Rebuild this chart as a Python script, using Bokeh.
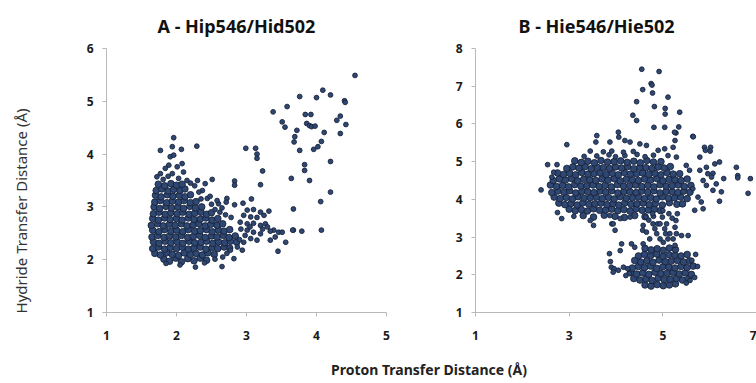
from bokeh.plotting import figure
from bokeh.layouts import row, column
from bokeh.models import Range1d, FixedTicker, Div
from bokeh.embed import file_html
from bokeh.resources import INLINE

# ---------------- data ----------------
title_a = "A  - Hip546/Hid502"
title_b = "B - Hie546/Hie502"
y_label = "Hydride Transfer Distance (Å)"
x_label = "Proton Transfer Distance (Å)"
a_xticks = [1, 2, 3, 4, 5]
a_yticks = [1, 2, 3, 4, 5, 6]
b_xticks = [1, 3, 5, 7]
b_yticks = [1, 2, 3, 4, 5, 6, 7, 8]

# Panel A: dense core (proton, hydride)
A_core = [
    (1.82, 2.01), (1.90, 1.97), (1.99, 2.03), (2.07, 1.96), (2.16, 2.02), (2.25, 1.98), (2.34, 2.03), (2.43, 1.99),
    (1.69, 2.12), (1.77, 2.09), (1.86, 2.13), (1.94, 2.10), (2.03, 2.08), (2.11, 2.13), (2.20, 2.10), (2.28, 2.12),
    (2.37, 2.09), (2.45, 2.13), (2.54, 2.10),
    (1.66, 2.21), (1.74, 2.24), (1.83, 2.20), (1.91, 2.23), (2.00, 2.21), (2.08, 2.24), (2.17, 2.20), (2.25, 2.22),
    (2.34, 2.24), (2.42, 2.20), (2.51, 2.23), (2.59, 2.21), (2.68, 2.24), (2.76, 2.22),
    (1.67, 2.34), (1.75, 2.31), (1.84, 2.35), (1.92, 2.32), (2.01, 2.34), (2.09, 2.31), (2.18, 2.35), (2.26, 2.32),
    (2.35, 2.33), (2.43, 2.35), (2.52, 2.31), (2.60, 2.34), (2.69, 2.32), (2.77, 2.35), (2.86, 2.33),
    (1.65, 2.43), (1.73, 2.46), (1.82, 2.42), (1.90, 2.45), (1.99, 2.43), (2.07, 2.46), (2.16, 2.42), (2.24, 2.44),
    (2.33, 2.46), (2.41, 2.42), (2.50, 2.45), (2.58, 2.43), (2.67, 2.46), (2.75, 2.42), (2.84, 2.45),
    (1.66, 2.56), (1.75, 2.53), (1.83, 2.57), (1.92, 2.54), (2.00, 2.56), (2.09, 2.53), (2.17, 2.57), (2.26, 2.54),
    (2.34, 2.55), (2.43, 2.57), (2.51, 2.53), (2.60, 2.56), (2.68, 2.54), (2.76, 2.57),
    (1.64, 2.65), (1.73, 2.68), (1.81, 2.64), (1.90, 2.67), (1.98, 2.65), (2.07, 2.68), (2.15, 2.64), (2.24, 2.66),
    (2.32, 2.68), (2.41, 2.64), (2.49, 2.67), (2.58, 2.65), (2.66, 2.68),
    (1.66, 2.78), (1.74, 2.75), (1.83, 2.79), (1.91, 2.76), (2.00, 2.78), (2.08, 2.75), (2.17, 2.79), (2.25, 2.76),
    (2.34, 2.77), (2.42, 2.79), (2.51, 2.75), (2.59, 2.78),
    (1.67, 2.87), (1.75, 2.90), (1.84, 2.86), (1.92, 2.89), (2.01, 2.87), (2.09, 2.90), (2.18, 2.86), (2.26, 2.88),
    (2.35, 2.90), (2.43, 2.86), (2.50, 2.89),
    (1.68, 3.00), (1.76, 2.97), (1.85, 3.01), (1.93, 2.98), (2.02, 3.00), (2.10, 2.97), (2.19, 3.01), (2.27, 2.98),
    (2.36, 3.00),
    (1.69, 3.09), (1.77, 3.12), (1.86, 3.08), (1.94, 3.11), (2.03, 3.09), (2.11, 3.12), (2.20, 3.08), (2.28, 3.10),
    (1.70, 3.22), (1.78, 3.19), (1.87, 3.23), (1.95, 3.20), (2.04, 3.22), (2.12, 3.19), (2.20, 3.23),
    (1.71, 3.31), (1.79, 3.34), (1.88, 3.30), (1.96, 3.33), (2.05, 3.31), (2.12, 3.34),
    (1.74, 3.43), (1.83, 3.40), (1.92, 3.44), (2.00, 3.41), (2.08, 3.43),
]

# Panel A: scattered points
A_sparse = [
    (1.77, 4.07), (1.94, 4.14), (2.07, 4.09), (2.29, 4.15), (1.96, 4.31), (1.91, 3.95), (1.96, 3.98), (1.89, 3.79),
    (1.84, 3.73), (2.01, 3.76), (2.08, 3.82), (1.77, 3.63), (1.94, 3.63), (2.10, 3.66), (1.72, 3.57), (2.03, 3.54),
    (2.15, 3.50), (1.81, 3.52), (1.88, 3.58), (2.20, 3.45),
    (2.30, 3.50), (2.51, 3.52), (2.41, 3.44), (2.26, 3.40), (2.37, 3.31), (2.32, 3.28), (2.44, 3.16), (2.72, 3.16),
    (2.60, 3.06), (2.71, 3.09), (2.83, 3.04), (2.95, 3.07), (2.83, 3.49), (2.83, 3.41), (2.50, 3.05), (2.55, 2.95),
    (2.62, 2.90), (2.70, 2.85), (2.78, 2.80), (2.65, 2.98), (2.48, 3.20), (2.58, 3.12), (2.35, 3.15),
    (3.01, 2.94), (3.10, 2.95), (3.20, 2.90), (3.32, 2.92), (2.96, 2.84), (3.06, 2.81), (3.15, 2.80), (3.25, 2.84),
    (2.91, 2.71), (3.01, 2.68), (3.10, 2.69), (3.20, 2.65), (3.27, 2.68), (3.30, 2.62), (3.39, 2.56), (3.46, 2.52),
    (3.51, 2.52), (3.56, 2.33), (3.45, 2.16), (3.67, 2.56), (3.06, 2.40), (3.15, 2.37), (2.96, 2.33), (3.34, 2.37),
    (3.10, 2.52), (3.20, 2.49), (3.01, 2.56), (3.34, 2.54), (3.41, 2.43), (2.87, 2.24), (2.94, 2.18), (2.77, 2.18),
    (2.82, 2.02), (2.65, 1.87), (2.92, 2.58), (2.98, 2.46), (2.90, 2.38), (3.05, 2.62), (3.23, 2.58),
    (1.85, 1.93), (2.05, 1.90), (2.27, 1.86), (2.40, 1.94), (2.55, 2.01), (2.66, 2.05), (2.72, 2.12),
    (3.23, 3.68), (3.20, 3.42), (3.64, 3.54), (3.07, 3.15), (3.67, 2.96), (2.99, 4.11), (3.13, 4.11), (3.15, 4.00),
    (3.15, 3.92), (3.66, 2.56), (3.79, 2.54), (4.07, 2.56), (4.06, 3.10), (4.20, 3.28), (3.90, 3.50), (3.83, 3.80),
    (3.83, 3.69), (4.20, 3.86), (3.76, 4.07), (3.96, 4.09), (4.02, 4.14), (4.07, 4.24), (4.11, 4.41), (3.68, 4.23),
    (3.69, 4.33), (3.72, 4.45), (4.34, 4.39), (4.42, 4.56), (4.29, 4.64), (4.34, 4.72), (3.86, 4.58), (3.90, 4.54),
    (3.93, 4.52), (3.98, 4.53), (3.51, 4.61), (3.55, 4.51), (3.84, 4.75), (3.92, 4.75), (3.38, 4.80), (3.58, 4.90),
    (4.40, 5.01), (4.41, 4.98), (4.20, 5.12), (4.00, 5.07), (3.76, 5.09), (4.09, 5.21), (4.55, 5.49),
]

# Panel B: upper (Hydride ~4-5 A) population
B_upper = [
    (3.30, 3.57), (3.52, 3.53), (3.75, 3.58), (3.98, 3.55), (4.18, 3.52), (4.40, 3.57), (4.62, 3.54),
    (3.00, 3.74), (3.13, 3.70), (3.26, 3.73), (3.39, 3.69), (3.52, 3.75), (3.65, 3.71), (3.78, 3.72), (3.91, 3.74),
    (4.04, 3.70), (4.17, 3.73), (4.30, 3.69), (4.43, 3.75), (4.56, 3.71), (4.69, 3.72), (4.82, 3.74), (4.95, 3.70),
    (2.78, 3.90), (2.91, 3.86), (3.04, 3.89), (3.17, 3.85), (3.29, 3.91), (3.42, 3.87), (3.55, 3.88), (3.68, 3.90),
    (3.81, 3.86), (3.94, 3.89), (4.06, 3.85), (4.19, 3.91), (4.32, 3.87), (4.45, 3.88), (4.58, 3.90), (4.71, 3.86),
    (4.84, 3.89), (4.99, 3.85), (5.14, 3.91), (5.30, 3.87), (5.42, 3.88),
    (2.68, 4.06), (2.81, 4.02), (2.94, 4.05), (3.07, 4.01), (3.19, 4.07), (3.32, 4.03), (3.45, 4.04), (3.58, 4.06),
    (3.71, 4.02), (3.84, 4.05), (3.96, 4.01), (4.09, 4.07), (4.22, 4.03), (4.35, 4.04), (4.48, 4.06), (4.61, 4.02),
    (4.74, 4.05), (4.86, 4.01), (4.99, 4.07), (5.12, 4.03), (5.25, 4.04), (5.38, 4.06), (5.52, 4.02),
    (2.63, 4.18), (2.76, 4.22), (2.89, 4.19), (3.01, 4.23), (3.14, 4.17), (3.27, 4.21), (3.40, 4.20), (3.53, 4.18),
    (3.66, 4.22), (3.78, 4.19), (3.91, 4.23), (4.04, 4.17), (4.17, 4.21), (4.30, 4.20), (4.43, 4.18), (4.55, 4.22),
    (4.68, 4.19), (4.81, 4.23), (4.94, 4.17), (5.07, 4.21), (5.20, 4.20), (5.32, 4.18), (5.45, 4.22), (5.58, 4.19),
    (2.60, 4.38), (2.73, 4.34), (2.86, 4.37), (2.99, 4.33), (3.12, 4.39), (3.25, 4.35), (3.38, 4.36), (3.51, 4.38),
    (3.64, 4.34), (3.77, 4.37), (3.90, 4.33), (4.03, 4.39), (4.16, 4.35), (4.29, 4.36), (4.42, 4.38), (4.55, 4.34),
    (4.68, 4.37), (4.81, 4.33), (4.94, 4.39), (5.07, 4.35), (5.20, 4.36), (5.33, 4.38), (5.46, 4.34), (5.60, 4.37),
    (2.66, 4.50), (2.79, 4.54), (2.92, 4.51), (3.05, 4.55), (3.18, 4.49), (3.31, 4.53), (3.44, 4.52), (3.57, 4.50),
    (3.70, 4.54), (3.83, 4.51), (3.96, 4.55), (4.09, 4.49), (4.22, 4.53), (4.35, 4.52), (4.48, 4.50), (4.61, 4.54),
    (4.74, 4.51), (4.87, 4.55), (5.00, 4.49), (5.13, 4.53), (5.26, 4.52), (5.39, 4.50), (5.52, 4.54),
    (2.75, 4.70), (2.88, 4.66), (3.01, 4.69), (3.14, 4.65), (3.27, 4.71), (3.40, 4.67), (3.53, 4.68), (3.66, 4.70),
    (3.79, 4.66), (3.92, 4.69), (4.05, 4.65), (4.18, 4.71), (4.31, 4.67), (4.44, 4.68), (4.57, 4.70), (4.70, 4.66),
    (4.83, 4.69), (4.96, 4.65), (5.09, 4.71), (5.22, 4.67), (5.36, 4.68),
    (2.95, 4.82), (3.08, 4.86), (3.21, 4.83), (3.34, 4.87), (3.47, 4.81), (3.60, 4.85), (3.73, 4.84), (3.86, 4.82),
    (3.99, 4.86), (4.12, 4.83), (4.25, 4.87), (4.38, 4.81), (4.51, 4.85), (4.64, 4.84), (4.77, 4.82), (4.90, 4.86),
    (5.03, 4.83), (5.16, 4.87),
    (3.12, 5.02), (3.26, 4.98), (3.40, 5.01), (3.54, 4.97), (3.68, 5.03), (3.82, 4.99), (3.96, 5.00), (4.10, 5.02),
    (4.24, 4.98), (4.38, 5.01), (4.52, 4.97), (4.66, 5.03), (4.80, 4.99), (4.96, 5.00),
]

# Panel B: lower (Hydride ~2 A) population
B_lower = [
    (4.62, 1.73), (4.75, 1.70), (4.88, 1.74), (5.01, 1.71), (5.14, 1.73), (5.27, 1.76),
    (4.38, 1.90), (4.51, 1.86), (4.64, 1.89), (4.77, 1.85), (4.90, 1.91), (5.03, 1.87), (5.16, 1.88), (5.29, 1.90),
    (5.42, 1.86), (5.55, 1.89),
    (4.31, 2.06), (4.44, 2.02), (4.57, 2.05), (4.70, 2.01), (4.83, 2.07), (4.96, 2.03), (5.09, 2.04), (5.22, 2.06),
    (5.35, 2.02), (5.48, 2.05), (5.61, 2.01),
    (4.35, 2.18), (4.48, 2.22), (4.61, 2.19), (4.74, 2.23), (4.87, 2.17), (5.00, 2.21), (5.13, 2.20), (5.26, 2.18),
    (5.39, 2.22), (5.52, 2.19), (5.65, 2.23),
    (4.40, 2.38), (4.53, 2.34), (4.66, 2.37), (4.79, 2.33), (4.92, 2.39), (5.05, 2.35), (5.18, 2.36), (5.31, 2.38),
    (5.44, 2.34), (5.57, 2.37),
    (4.48, 2.50), (4.61, 2.54), (4.74, 2.51), (4.87, 2.55), (5.00, 2.49), (5.13, 2.53), (5.26, 2.52), (5.39, 2.50),
    (5.52, 2.54),
    (4.62, 2.70), (4.75, 2.66), (4.88, 2.69), (5.01, 2.65), (5.14, 2.71), (5.27, 2.67),
]

# Panel B: scattered points
B_sparse = [
    (3.32, 5.14), (3.59, 5.15), (3.85, 5.18), (3.99, 5.13), (4.19, 5.16), (4.45, 5.19), (4.62, 5.13), (4.80, 5.17),
    (2.95, 5.45), (2.54, 4.92), (2.74, 4.92), (2.40, 4.25), (2.67, 4.72), (2.63, 4.59), (3.59, 5.69), (3.57, 5.52),
    (4.05, 5.78), (4.06, 5.65), (3.87, 5.52), (4.19, 5.56), (4.30, 5.52), (4.51, 5.47), (4.65, 5.43), (3.45, 5.28),
    (3.73, 5.26), (3.91, 5.28), (4.16, 5.25), (4.37, 5.27), (4.90, 5.30), (5.04, 5.34), (5.22, 5.38), (5.11, 5.16),
    (5.29, 5.12), (5.28, 5.76), (5.64, 5.67), (5.26, 5.56), (5.89, 5.38), (6.02, 5.38), (5.91, 5.30), (6.01, 5.28),
    (5.79, 5.12), (6.21, 4.99), (6.11, 4.94), (5.93, 4.85), (6.57, 4.85), (6.60, 4.63), (6.60, 4.57), (6.87, 4.55),
    (6.82, 4.16), (6.30, 4.55), (6.07, 4.69), (6.04, 4.59), (6.21, 3.95), (6.25, 4.20), (6.07, 4.24), (5.86, 4.50),
    (5.93, 4.37), (5.86, 3.75), (5.68, 3.71), (5.75, 4.06), (5.82, 3.93), (5.64, 4.28), (5.57, 4.77), (5.50, 4.90),
    (5.79, 4.77), (5.96, 4.68), (6.14, 4.41),
    (4.55, 7.45), (4.92, 7.39), (4.75, 7.07), (4.77, 7.03), (4.57, 6.91), (4.78, 6.82), (5.11, 6.71), (4.44, 6.59),
    (4.82, 6.46), (5.05, 6.41), (5.05, 6.26), (5.36, 6.31), (4.36, 6.23), (4.44, 6.09), (4.81, 5.91), (5.04, 5.91),
    (5.34, 5.92), (5.25, 5.78), (5.65, 5.66),
    (2.84, 3.49), (3.45, 3.44), (3.52, 3.31), (3.87, 3.57), (3.91, 3.35), (4.09, 3.49), (4.30, 3.53), (2.75, 3.65),
    (3.10, 3.55), (4.80, 3.55),
    (4.64, 3.53), (4.78, 3.62), (4.99, 3.53), (5.13, 3.62), (5.28, 3.44), (5.31, 3.62), (4.89, 3.35), (4.57, 3.18),
    (5.06, 3.09), (3.94, 3.35), (3.98, 3.18), (4.12, 2.82), (4.09, 2.64), (4.33, 2.82), (4.40, 2.73), (4.58, 3.31),
    (4.79, 3.35), (4.94, 3.35), (5.08, 3.35), (4.83, 3.22), (5.04, 3.22), (5.26, 3.26), (4.65, 3.13), (4.87, 3.09),
    (5.15, 3.09), (5.29, 3.09), (5.40, 3.04), (5.54, 3.04), (4.72, 2.95), (4.94, 2.95), (5.11, 2.95), (5.22, 2.95),
    (4.58, 2.82), (5.01, 2.86), (5.26, 2.78), (5.00, 3.70), (4.70, 3.45), (5.20, 3.50),
    (3.86, 2.56), (3.88, 2.35), (3.90, 2.20), (3.96, 2.16), (3.94, 2.07), (4.16, 2.20), (4.25, 2.16), (4.28, 2.03),
    (4.21, 1.98), (4.05, 2.12),
    (5.70, 2.54), (5.68, 1.93), (5.62, 2.38), (5.74, 2.22), (5.58, 1.85), (5.50, 1.78),
]

# ---------------- styling ----------------
FONT = "Noto Sans"
DOT_FILL = "#2f4873"
DOT_LINE = "#18233a"
AXIS_COL = "#b8b8b8"
YDIV_W = 34


def make_panel(title, dense, sparse, xr, yr, xt, yt, width, left, right, title_off):
    p = figure(width=width, height=345, x_range=Range1d(*xr), y_range=Range1d(*yr),
               output_backend="svg", toolbar_location=None,
               min_border_left=left, min_border_right=right, min_border_top=48, min_border_bottom=33)
    p.title.text = title
    p.title.align = "left"
    p.title.offset = title_off
    p.title.text_font = FONT
    p.title.text_font_size = "18px"
    p.title.text_font_style = "bold"
    p.title.text_color = "#111111"
    p.title.standoff = 21
    p.grid.visible = False
    p.outline_line_color = None
    for ax in (p.xaxis[0], p.yaxis[0]):
        ax.axis_line_color = AXIS_COL
        ax.axis_line_width = 1
        ax.major_tick_line_color = AXIS_COL
        ax.minor_tick_line_color = None
        ax.major_tick_in = 0
        ax.major_tick_out = 4
        ax.major_label_text_font = FONT
        ax.major_label_text_font_style = "bold"
        ax.major_label_text_font_size = "12px"
        ax.major_label_text_color = "#1a1a1a"
    p.xaxis.ticker = FixedTicker(ticks=xt)
    p.yaxis.ticker = FixedTicker(ticks=yt)
    p.xaxis.major_label_standoff = 14
    p.yaxis.major_label_standoff = 9
    p.scatter([q[0] for q in dense], [q[1] for q in dense], size=6.6,
              fill_color=DOT_FILL, line_color=DOT_LINE, line_width=0.9)
    p.scatter([q[0] for q in sparse], [q[1] for q in sparse], size=4.8,
              fill_color=DOT_FILL, line_color=DOT_LINE, line_width=0.9)
    return p


pA = make_panel(title_a, A_core, A_sparse, (1, 5), (1, 6), a_xticks, a_yticks,
                408 - YDIV_W, 106 - YDIV_W, 22, 51)
pB = make_panel(title_b, B_upper + B_lower, B_sparse, (1, 7), (1, 8), b_xticks, b_yticks,
                348, 67, 0, 43)

# Y-axis title (rotated), placed where the reference has it
ylab = Div(
    text=('<div style="position:absolute;left:22px;top:211px;'
          'transform:translate(-50%,-50%) rotate(-90deg);white-space:nowrap;'
          'font-family:\'Noto Sans\';font-size:15px;color:#333333">' + y_label + '</div>'),
    width=YDIV_W, height=345, margin=0, styles={"position": "relative", "overflow": "visible"})

xlab = Div(
    text=('<div style="position:relative;left:326px;top:10px;font-family:\'Noto Sans\';'
          'font-weight:bold;font-size:14px;color:#222222;white-space:nowrap">' + x_label + '</div>'),
    width=740, height=28)

layout = column(row(ylab, pA, pB), xlab)

with open("out.html", "w") as f:
    f.write(file_html(layout, INLINE))
